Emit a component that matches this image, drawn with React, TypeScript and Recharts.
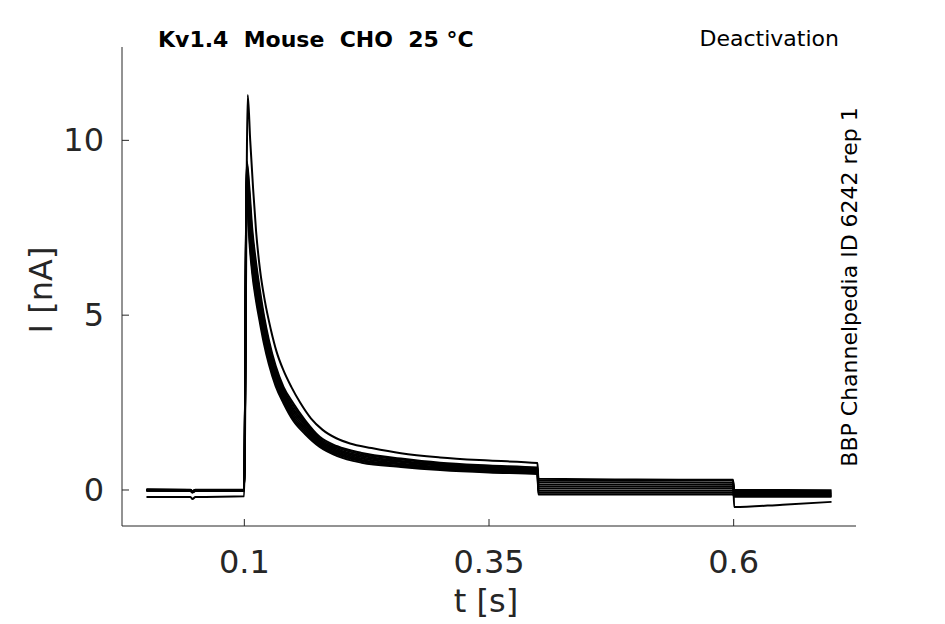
import { LineChart, Line, XAxis, YAxis } from 'recharts'

// time grids (s)
const bundleT = [0, 0.045, 0.047, 0.05, 0.0998, 0.1025, 0.105, 0.108, 0.112, 0.116, 0.12, 0.125, 0.132, 0.14, 0.15, 0.162, 0.177, 0.195, 0.22, 0.26, 0.3, 0.35, 0.3995, 0.4005, 0.5, 0.5995, 0.6005, 0.65, 0.7]
const outlierT = [0, 0.045, 0.047, 0.05, 0.0998, 0.1035, 0.106, 0.109, 0.112, 0.116, 0.121, 0.127, 0.133, 0.14, 0.148, 0.157, 0.168, 0.18, 0.194, 0.208, 0.23, 0.26, 0.3, 0.35, 0.3995, 0.4005, 0.5, 0.5995, 0.6005, 0.65, 0.7]

// current traces (nA)
const trace1 = [0.02, 0.01, -0.03, 0.01, 0.01, 9.4, 8.7, 7.5, 6.5, 5.7, 5.0, 4.3, 3.55, 2.95, 2.48, 2.0, 1.52, 1.25, 1.06, 0.9, 0.78, 0.7, 0.64, 0.28, 0.27, 0.27, 0.0, 0.0, -0.01]
const trace2 = [0.01, 0.0, -0.04, 0.0, 0.0, 9.35, 8.5, 7.3, 6.36, 5.57, 4.9, 4.2, 3.46, 2.88, 2.4, 1.95, 1.47, 1.21, 1.02, 0.87, 0.75, 0.67, 0.62, 0.22, 0.22, 0.21, -0.03, -0.03, -0.04]
const trace3 = [0.0, 0.0, -0.05, 0.0, 0.0, 9.3, 8.3, 7.15, 6.2, 5.43, 4.77, 4.1, 3.38, 2.81, 2.32, 1.9, 1.43, 1.17, 0.98, 0.83, 0.72, 0.64, 0.59, 0.16, 0.16, 0.15, -0.06, -0.06, -0.07]
const trace4 = [0.0, -0.01, -0.05, -0.01, -0.01, 9.2, 8.08, 6.97, 6.06, 5.3, 4.65, 4.0, 3.3, 2.75, 2.25, 1.84, 1.39, 1.13, 0.94, 0.8, 0.69, 0.61, 0.57, 0.1, 0.1, 0.09, -0.09, -0.09, -0.1]
const trace5 = [-0.01, -0.01, -0.06, -0.01, -0.01, 9.1, 7.84, 6.76, 5.9, 5.17, 4.53, 3.9, 3.22, 2.68, 2.18, 1.78, 1.35, 1.09, 0.9, 0.76, 0.66, 0.58, 0.54, 0.04, 0.04, 0.04, -0.12, -0.12, -0.12]
const trace6 = [-0.01, -0.02, -0.06, -0.02, -0.02, 9.0, 7.6, 6.56, 5.7, 5.04, 4.41, 3.8, 3.14, 2.61, 2.11, 1.72, 1.31, 1.05, 0.86, 0.73, 0.63, 0.55, 0.51, -0.02, -0.02, -0.02, -0.14, -0.14, -0.15]
const trace7 = [-0.02, -0.02, -0.07, -0.02, -0.02, 8.9, 7.36, 6.35, 5.52, 4.9, 4.3, 3.7, 3.05, 2.54, 2.04, 1.66, 1.27, 1.01, 0.82, 0.69, 0.6, 0.52, 0.49, -0.08, -0.08, -0.08, -0.17, -0.17, -0.17]
const trace8 = [-0.02, -0.03, -0.07, -0.03, -0.03, 8.8, 7.2, 6.21, 5.4, 4.77, 4.19, 3.6, 2.97, 2.48, 1.98, 1.6, 1.23, 0.97, 0.78, 0.66, 0.57, 0.5, 0.46, -0.13, -0.13, -0.13, -0.19, -0.19, -0.19]
const outlier = [-0.2, -0.2, -0.26, -0.2, -0.18, 11.3, 10.0, 8.6, 7.4, 6.3, 5.4, 4.6, 3.95, 3.42, 2.95, 2.5, 2.05, 1.72, 1.48, 1.33, 1.2, 1.05, 0.93, 0.84, 0.77, 0.32, 0.3, 0.29, -0.49, -0.42, -0.34]

const xTicks = [0.1, 0.35, 0.6]
const yTicks = [0, 5, 10]

const bundle = [trace1, trace2, trace3, trace4, trace5, trace6, trace7, trace8]

const toRows = (ts: number[], vals: number[]) => ts.map((t, i) => ({ t, i: vals[i] }))

const FONT = '"DejaVu Sans", sans-serif'
const AXIS = '#262626'

const XTick = ({ x, y, payload }: any) => (
  <g>
    <line x1={x} x2={x} y1={y} y2={y - 7} stroke={AXIS} />
    <text x={x} y={y + 47} textAnchor="middle" fontSize={32} fill={AXIS} fontFamily={FONT}>
      {payload.value}
    </text>
  </g>
)

const YTick = ({ x, y, payload }: any) => (
  <g>
    <line x1={x} x2={x + 7} y1={y} y2={y} stroke={AXIS} />
    <text x={x - 18} y={y + 11} textAnchor="end" fontSize={32} fill={AXIS} fontFamily={FONT}>
      {payload.value}
    </text>
  </g>
)

export default function App() {
  return (
    <div style={{ position: 'relative', width: 945, height: 624, background: '#fff' }}>
      <style>{'body{margin:0}'}</style>
      <LineChart width={945} height={624} margin={{ top: 47, right: 89, left: 62, bottom: 38 }}>
        <XAxis
          type="number"
          dataKey="t"
          domain={[-0.025, 0.725]}
          ticks={xTicks}
          interval={0}
          allowDataOverflow
          height={60}
          tickSize={0}
          tickMargin={0}
          tickLine={false}
          stroke={AXIS}
          tick={<XTick />}
        />
        <YAxis
          type="number"
          dataKey="i"
          domain={[-1.03, 12.67]}
          ticks={yTicks}
          interval={0}
          allowDataOverflow
          width={60}
          tickSize={0}
          tickMargin={0}
          tickLine={false}
          stroke={AXIS}
          tick={<YTick />}
        />
        {bundle.map((vals, k) => (
          <Line
            key={k}
            data={toRows(bundleT, vals)}
            dataKey="i"
            type="monotone"
            stroke="#000"
            strokeWidth={2}
            dot={false}
            isAnimationActive={false}
          />
        ))}
        <Line
          data={toRows(outlierT, outlier)}
          dataKey="i"
          type="monotone"
          stroke="#000"
          strokeWidth={2}
          dot={false}
          isAnimationActive={false}
        />
      </LineChart>
      <svg width={945} height={624} style={{ position: 'absolute', left: 0, top: 0, pointerEvents: 'none' }}>
        <text x={158} y={47} fontSize={22} fontWeight="bold" fontFamily={FONT} fill="#000" style={{ whiteSpace: 'pre' }}>
          Kv1.4  Mouse  CHO  25 °C
        </text>
        <text x={839} y={46} textAnchor="end" fontSize={22} fontFamily={FONT} fill="#000">
          Deactivation
        </text>
        <text x={857} y={287} textAnchor="middle" fontSize={22} fontFamily={FONT} fill="#000" transform="rotate(-90 857 287)">
          BBP Channelpedia ID 6242 rep 1
        </text>
        <text x={52} y={290} textAnchor="middle" fontSize={32} fontFamily={FONT} fill={AXIS} transform="rotate(-90 52 290)">
          I [nA]
        </text>
        <text x={486} y={612} textAnchor="middle" fontSize={32} fontFamily={FONT} fill={AXIS}>
          t [s]
        </text>
      </svg>
    </div>
  )
}
